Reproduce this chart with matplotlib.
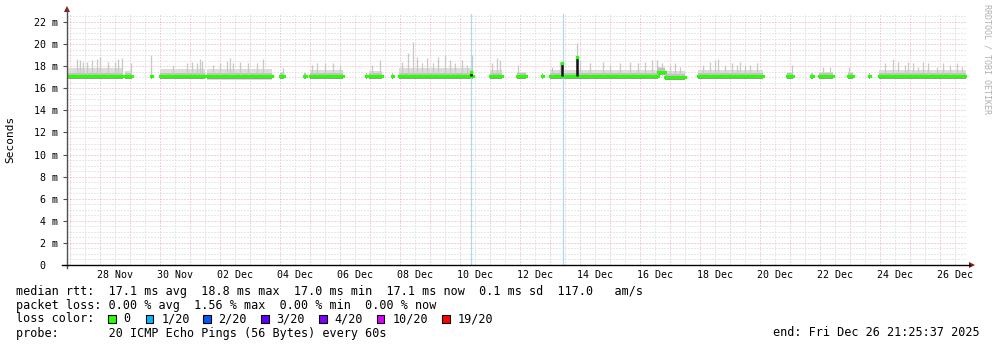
import datetime as dt
import matplotlib
matplotlib.use('Agg')
import matplotlib.pyplot as plt
from matplotlib.ticker import MultipleLocator
import matplotlib.dates as mdates
from matplotlib.patches import Rectangle

# 30 day window ending at the probe end time
t_end = dt.datetime(2025, 12, 26, 21, 25, 37)
t_start = t_end - dt.timedelta(days=30)

# data segments (hours after t_start), gaps = no data
seg_start = [0.0, 46.4, 67.2, 74.4, 112.0, 170.4, 189.6, 194.4, 239.2, 241.6, 260.0, 265.6,
             338.4, 360.0, 380.0, 386.4, 472.8, 478.4, 504.8, 576.0, 595.2, 601.6, 624.8, 641.6, 649.6]
seg_end = [44.8, 52.0, 68.0, 110.4, 164.0, 173.6, 191.2, 220.8, 240.0, 252.0, 260.8, 324.8,
           348.0, 367.2, 380.8, 472.8, 478.4, 494.4, 556.8, 580.8, 596.8, 612.8, 628.8, 642.4, 719.2]
seg_median = [17.1, 17.1, 17.1, 17.1, 17.07, 17.1, 17.1, 17.1, 17.1, 17.1, 17.1, 17.1,
              17.1, 17.1, 17.1, 17.1, 17.5, 17.0, 17.1, 17.1, 17.1, 17.1, 17.1, 17.1, 17.1]
seg_smoke = [17.8, 17.6, 17.3, 17.75, 17.75, 17.5, 17.3, 17.7, 17.3, 17.6, 17.3, 17.8,
             17.7, 17.5, 17.3, 17.7, 17.95, 17.6, 17.7, 17.5, 17.3, 17.5, 17.5, 17.3, 17.7]

# single-ping smoke spikes (hours, ms)
spike_h = [8.0, 10.4, 12.8, 16.0, 20.0, 24.0, 26.4, 32.8, 38.4, 40.8, 44.0, 51.2, 67.2,
           84.8, 96.0, 100.0, 104.0, 106.4, 108.0, 116.8, 122.4, 128.0, 130.4, 132.8, 138.4,
           144.8, 152.0, 156.8, 172.8, 196.0, 200.0, 206.4, 212.8, 218.4, 244.0, 250.4,
           268.0, 272.8, 276.8, 280.0, 284.0, 288.0, 292.8, 296.8, 302.4, 306.4, 310.4, 316.0,
           320.0, 324.0, 340.0, 344.0, 346.4, 360.8, 388.0, 394.4, 408.0, 410.4, 418.4, 428.8,
           434.4, 442.4, 450.4, 456.8, 462.4, 468.0, 472.0, 476.0, 482.4, 486.4, 490.4, 508.8,
           514.4, 518.4, 520.8, 526.4, 532.0, 536.0, 538.4, 542.4, 546.4, 552.0, 580.0, 604.8,
           610.4, 625.6, 654.4, 660.8, 664.8, 670.4, 672.8, 676.8, 680.8, 684.8, 688.8, 696.0,
           700.8, 706.4, 712.0, 716.0]
spike_ms = [18.65, 18.56, 18.38, 18.38, 18.56, 18.65, 18.83, 18.38, 18.38, 18.65, 18.74, 18.29, 19.0,
            18.11, 18.29, 18.38, 18.29, 18.65, 18.47, 18.11, 18.29, 18.47, 18.74, 18.29, 18.38,
            18.29, 18.29, 18.65, 17.84, 18.11, 18.29, 18.29, 18.29, 18.11, 18.11, 18.56,
            18.38, 19.19, 20.19, 18.83, 18.29, 18.74, 18.29, 18.83, 19.01, 18.56, 18.29, 18.56,
            18.11, 19.01, 18.29, 18.74, 18.56, 18.11, 17.93, 18.38, 20.1, 18.56, 18.29, 18.38,
            18.11, 18.29, 18.38, 18.29, 18.38, 18.56, 18.56, 18.29, 18.11, 18.29, 17.93, 18.11,
            18.38, 18.56, 18.65, 18.11, 18.29, 18.11, 18.38, 18.11, 18.11, 18.29, 18.11, 17.93,
            17.93, 17.93, 18.29, 18.65, 18.38, 18.11, 18.38, 18.29, 17.93, 18.38, 18.29, 17.93,
            18.29, 18.11, 18.29, 17.93]

# short median excursions (hours, ms)
jump_h = [323.2, 396.0, 407.6]
jump_ms = [17.45, 18.3, 18.8]

# packet-loss markers (hours)
loss_h = [323.2, 396.8]

tick_labels = ['28 Nov', '30 Nov', '02 Dec', '04 Dec', '06 Dec', '08 Dec', '10 Dec', '12 Dec',
               '14 Dec', '16 Dec', '18 Dec', '20 Dec', '22 Dec', '24 Dec', '26 Dec']
ytick_vals = [0, 2, 4, 6, 8, 10, 12, 14, 16, 18, 20, 22]
ytick_labels = ['0  '] + ['%d m' % v for v in ytick_vals[1:]]

loss_names = ['0', '1/20', '2/20', '3/20', '4/20', '10/20', '19/20']
loss_colors = ['#26ff00', '#00b8ff', '#0059ff', '#5e00ff', '#7e00ff', '#dd00ff', '#ff0000']


def T(h):
    return t_start + dt.timedelta(hours=h)


W, H = 997, 347
MONO = 'DejaVu Sans Mono'


def px(x, y):
    return x / W, 1 - y / H


fig = plt.figure(figsize=(W / 100, H / 100), dpi=100)
ax = fig.add_axes([67 / W, 82 / H, 900 / W, 251 / H])
ax.set_xlim(t_start, t_end)
ax.set_ylim(0, 251 / 11.045)

# grid
ax.xaxis.set_major_locator(mdates.DayLocator())
ax.xaxis.set_minor_locator(mdates.HourLocator(byhour=[12]))
ax.yaxis.set_major_locator(MultipleLocator(2))
ax.yaxis.set_minor_locator(MultipleLocator(0.5))
dots = (0, (1, 2))
ax.grid(which='minor', color='#d2d2d2', lw=0.72, ls=dots)
ax.grid(which='major', color='#e8a8a8', lw=0.72, ls=dots)
ax.set_axisbelow(True)

# smoke
for s, e, m, top in zip(seg_start, seg_end, seg_median, seg_smoke):
    ax.fill_between([T(s), T(e)], [m - 0.28] * 2, [top] * 2, color='#dcdcdc', lw=0, zorder=2)
    ax.fill_between([T(s), T(e)], [m - 0.27] * 2, [m - 0.1] * 2, color='#9a9a9a', lw=0, zorder=2)
    ax.fill_between([T(s), T(e)], [m] * 2, [m + 0.3] * 2, color='#c2c2c2', lw=0, zorder=2)
ax.vlines([T(h) for h in spike_h], 17.1, spike_ms, color='#c8c8c8', lw=0.95, zorder=2)

# loss markers
for h in loss_h:
    ax.axvline(T(h), color='#a8dcf5', lw=0.9, zorder=3)

# median line
for s, e, m in zip(seg_start, seg_end, seg_median):
    ax.plot([T(s), T(e)], [m, m], color='#26ff00', lw=2.2, solid_capstyle='projecting', zorder=4)
ax.vlines([T(h) for h in jump_h], 17.1, jump_ms, color='#111111', lw=1.8, zorder=5)
ax.plot([T(h) for h in jump_h], jump_ms, 's', ms=1.6, color='#26ff00', zorder=6)

# axes and arrows
for sp in ax.spines.values():
    sp.set_visible(False)
ax.plot([0, 0], [-0.012, 1.02], color='#505050', lw=1, transform=ax.transAxes, clip_on=False, zorder=7)
ax.plot([-0.006, 1.003], [0, 0], color='black', lw=1, transform=ax.transAxes, clip_on=False, zorder=7)
ax.plot(0, 1.02, marker='^', ms=4.5, color='#8b1a1a', mew=0, transform=ax.transAxes, clip_on=False)
ax.plot(1.005, 0, marker='>', ms=4.5, color='#8b1a1a', mew=0, transform=ax.transAxes, clip_on=False)

ax.set_yticks(ytick_vals)
ax.set_yticklabels(ytick_labels, family=MONO, fontsize=7.2)
ax.tick_params(axis='y', which='major', length=3, width=0.8, color='#505050', pad=3.5)
ax.tick_params(axis='y', which='minor', length=0)
ax.tick_params(axis='x', which='both', length=0, labelbottom=False)
for lab in tick_labels:
    d = dt.datetime.strptime(lab + ' 2025 12:00', '%d %b %Y %H:%M')
    ax.text(d, -9.5 / 251, lab, transform=ax.get_xaxis_transform(), ha='center', va='center',
            family=MONO, fontsize=7.2)

fig.text(*px(10, 139), 'Seconds', rotation=90, ha='center', va='center', family=MONO, fontsize=8)
fig.text(*px(987, 4), 'RRDTOOL / TOBI OETIKER', rotation=270, ha='center', va='top',
         family=MONO, fontsize=6, color='#b0b0b0')

# legend block
fs = 8.45
fig.text(*px(16, 291.5), 'median rtt:  17.1 ms avg  18.8 ms max  17.0 ms min  17.1 ms now  0.1 ms sd  117.0   am/s',
         family=MONO, fontsize=fs, va='center')
fig.text(*px(16, 305), 'packet loss: 0.00 % avg  1.56 % max  0.00 % min  0.00 % now',
         family=MONO, fontsize=fs, va='center')
fig.text(*px(16, 319), 'loss color:', family=MONO, fontsize=fs, va='center')
box_x = [108, 145.7, 203, 261, 319, 376.7, 442]
for bx, name, c in zip(box_x, loss_names, loss_colors):
    x0, y0 = px(bx, 323)
    fig.patches.append(Rectangle((x0, y0), 7.5 / W, 8.5 / H, transform=fig.transFigure,
                                 facecolor=c, edgecolor='black', lw=0.8))
    fig.text(*px(bx + 15.5, 319), name, family=MONO, fontsize=fs, va='center')
fig.text(*px(16, 333), 'probe:       20 ICMP Echo Pings (56 Bytes) every 60s',
         family=MONO, fontsize=fs, va='center')
fig.text(*px(980, 333), 'end: Fri Dec 26 21:25:37 2025', family=MONO, fontsize=fs,
         va='center', ha='right')

fig.savefig('out.png', dpi=100)
